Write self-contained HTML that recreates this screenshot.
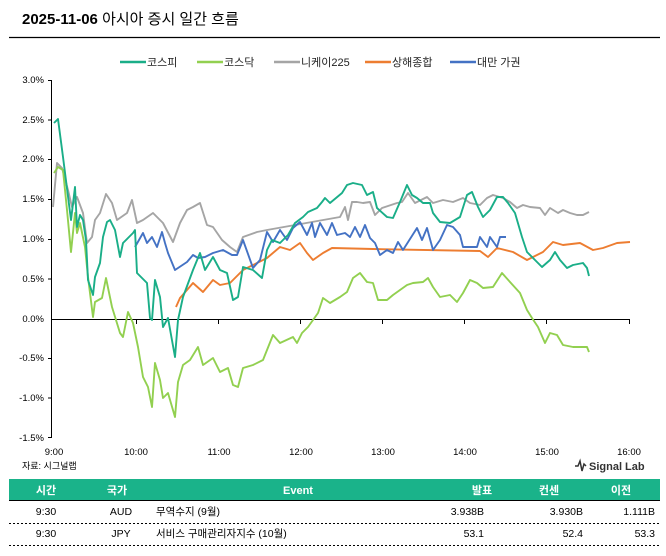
<!DOCTYPE html>
<html><head><meta charset="utf-8"><style>
body{margin:0;background:#fff;width:666px;height:556px;overflow:hidden;font-family:"Liberation Sans","Noto Sans CJK KR",sans-serif}
svg{display:block}
text{font-family:"Liberation Sans","Noto Sans CJK KR",sans-serif}
</style></head><body>
<svg width="666" height="556" viewBox="0 0 666 556" xmlns="http://www.w3.org/2000/svg">
<text x="22" y="24" font-size="15" fill="#000"><tspan font-weight="bold">2025-11-06</tspan> 아시아 증시 일간 흐름</text>
<line x1="9" y1="37.5" x2="660" y2="37.5" stroke="#000" stroke-width="1.2"/>
<g font-size="11" fill="#222">
<line x1="120" y1="62" x2="146" y2="62" stroke="#1aae88" stroke-width="2.5"/><text x="147" y="66">코스피</text>
<line x1="197" y1="62" x2="223" y2="62" stroke="#92d050" stroke-width="2.5"/><text x="224" y="66">코스닥</text>
<line x1="274" y1="62" x2="300" y2="62" stroke="#a5a5a5" stroke-width="2.5"/><text x="301" y="66">니케이225</text>
<line x1="365" y1="62" x2="391" y2="62" stroke="#ed7d31" stroke-width="2.5"/><text x="392" y="66">상해종합</text>
<line x1="450" y1="62" x2="476" y2="62" stroke="#4472c4" stroke-width="2.5"/><text x="477" y="66">대만 가권</text>
</g>
<g font-size="9.5" fill="#000" text-anchor="end">
<text x="44" y="83">3.0%</text><text x="44" y="123">2.5%</text><text x="44" y="162">2.0%</text><text x="44" y="202">1.5%</text><text x="44" y="242">1.0%</text><text x="44" y="282">0.5%</text><text x="44" y="322">0.0%</text><text x="44" y="361">-0.5%</text><text x="44" y="401">-1.0%</text><text x="44" y="441">-1.5%</text>
</g>
<g stroke="#000" stroke-width="1">
<line x1="51.5" y1="80" x2="51.5" y2="438"/>
<line x1="48" y1="80.5" x2="51.5" y2="80.5"/><line x1="48" y1="120" x2="51.5" y2="120"/><line x1="48" y1="159.5" x2="51.5" y2="159.5"/><line x1="48" y1="199.5" x2="51.5" y2="199.5"/><line x1="48" y1="239.5" x2="51.5" y2="239.5"/><line x1="48" y1="279" x2="51.5" y2="279"/><line x1="48" y1="358.5" x2="51.5" y2="358.5"/><line x1="48" y1="398" x2="51.5" y2="398"/><line x1="48" y1="437.5" x2="51.5" y2="437.5"/>
<line x1="51.5" y1="319.5" x2="630" y2="319.5"/>
<line x1="136.5" y1="319" x2="136.5" y2="324"/><line x1="218.5" y1="319" x2="218.5" y2="324"/><line x1="300.5" y1="319" x2="300.5" y2="324"/><line x1="382.5" y1="319" x2="382.5" y2="324"/><line x1="464.5" y1="319" x2="464.5" y2="324"/><line x1="546.5" y1="319" x2="546.5" y2="324"/><line x1="629.5" y1="319" x2="629.5" y2="324"/>
</g>
<g font-size="9.5" fill="#000" text-anchor="middle">
<text x="54" y="455">9:00</text><text x="136" y="455">10:00</text><text x="219" y="455">11:00</text><text x="301" y="455">12:00</text><text x="383" y="455">13:00</text><text x="465" y="455">14:00</text><text x="547" y="455">15:00</text><text x="629" y="455">16:00</text>
</g>
<g fill="none" stroke-width="1.9" stroke-linejoin="round">
<polyline stroke="#a5a5a5" points="53,207 57,163 62,168 68,190 72,207 77,197 83,213 87,243 92,237 95,220 100,213 106,194 112,203 117,220 127,213 132,200 137,223 143,220 153,213 163,223 173,242 180,223 187,210 193,207 200,203 207,225 213,227 222,240 230,247 237,252 243,237 257,232 267,230 340,217 345,207 348,220 352,202 357,202 363,203 370,202 375,215 382,208 397,203 402,202 408,193 415,203 427,197 433,203 443,200 453,202 463,198 470,203 480,205 487,198 493,195 503,198 510,202 517,208 523,205 530,207 540,208 545,215 550,208 558,213 563,210 570,213 577,215 583,215 589,212"/>
<polyline stroke="#ed7d31" points="176,307 180,298 187,290 193,283 203,292 213,280 220,285 230,283 243,270 257,263 267,258 280,247 290,250 300,243 307,253 313,260 323,253 332,248 373,249 480,251 488,257 497,248 513,252 527,260 543,252 553,242 563,245 580,243 593,250 603,248 617,243 630,242"/>
<polyline stroke="#4472c4" points="135,247 143,233 147,243 152,237 157,247 162,232 165,243 168,253 175,270 187,262 193,255 198,258 205,257 213,253 223,250 232,255 237,255 243,240 253,268 260,260 267,232 273,242 280,230 287,240 293,228 300,222 307,235 312,223 315,237 320,223 327,235 332,223 337,235 345,233 350,237 355,227 360,237 365,225 370,238 375,243 380,255 387,250 393,253 398,242 403,250 417,228 422,240 427,228 433,250 440,240 447,225 453,227 460,235 463,247 477,247 480,237 487,247 490,237 497,247 500,237 506,237"/>
<polyline stroke="#92d050" points="54,173 58,167 63,170 67,210 71,252 75,213 77,233 80,223 85,247 88,277 93,317 95,302 102,298 106,278 112,307 120,333 123,337 128,312 133,323 138,347 143,377 148,387 152,407 155,363 160,380 163,398 168,393 175,417 178,382 183,365 190,360 198,347 203,365 213,358 220,372 228,368 233,385 238,387 243,368 253,365 263,360 273,335 280,343 293,337 297,343 302,333 308,327 313,320 318,313 323,298 330,303 340,297 347,292 353,278 360,273 367,282 373,283 378,300 387,300 393,295 400,290 407,285 413,283 423,282 428,278 433,287 440,297 450,295 457,302 463,293 470,280 477,283 483,288 493,287 502,273 510,282 520,293 527,310 532,318 538,327 545,343 550,333 557,335 563,345 573,347 587,347 589,352"/>
<polyline stroke="#1aae88" points="54,123 58,119 63,157 71,220 75,187 77,227 80,215 83,220 86,240 88,280 93,295 95,277 100,263 103,237 107,222 110,220 115,230 120,257 123,243 128,238 133,233 135,230 137,273 147,283 150,318 152,320 155,280 160,297 163,327 168,318 175,357 178,320 183,297 193,270 200,253 205,270 213,257 220,270 227,273 233,300 238,297 243,267 253,270 262,278 267,250 272,240 280,243 288,235 295,223 303,217 308,212 317,208 322,202 325,198 330,203 342,193 347,185 353,183 362,185 367,195 373,192 377,208 387,217 393,218 400,202 407,185 412,195 417,198 423,203 430,203 433,213 440,222 450,223 460,217 467,195 472,192 478,207 483,217 490,210 497,197 503,197 508,203 515,213 522,237 527,252 537,262 542,267 550,260 555,252 560,260 567,268 573,265 583,263 587,268 589,276"/>
</g>
<text x="22" y="469" font-size="9" fill="#000">자료: 시그널랩</text>
<polyline points="575,466 578,466 580,461 582,471 584,464 586,466" fill="none" stroke="#333" stroke-width="1.5"/>
<text x="589" y="470" font-size="11" font-weight="bold" fill="#333">Signal Lab</text>
<rect x="9" y="479" width="651" height="21" fill="#1ab38a"/>
<line x1="9" y1="500.5" x2="660" y2="500.5" stroke="#000" stroke-width="1"/>
<g font-size="11" font-weight="bold" fill="#fff" text-anchor="middle">
<text x="46" y="494">시간</text><text x="117" y="494">국가</text><text x="298" y="494">Event</text><text x="482" y="494">발표</text><text x="549" y="494">컨센</text><text x="621" y="494">이전</text>
</g>
<g font-size="10.5" fill="#000">
<text x="46" y="515" text-anchor="middle">9:30</text><text x="121" y="515" text-anchor="middle">AUD</text><text x="156" y="515">무역수지 (9월)</text>
<text x="484" y="515" text-anchor="end">3.938B</text><text x="583" y="515" text-anchor="end">3.930B</text><text x="655" y="515" text-anchor="end">1.111B</text>
<text x="46" y="537" text-anchor="middle">9:30</text><text x="121" y="537" text-anchor="middle">JPY</text><text x="156" y="537">서비스 구매관리자지수 (10월)</text>
<text x="484" y="537" text-anchor="end">53.1</text><text x="583" y="537" text-anchor="end">52.4</text><text x="655" y="537" text-anchor="end">53.3</text>
</g>
<line x1="9" y1="523.5" x2="660" y2="523.5" stroke="#000" stroke-width="1" stroke-dasharray="2,2"/>
<line x1="9" y1="545.5" x2="660" y2="545.5" stroke="#000" stroke-width="1" stroke-dasharray="2,2"/>
</svg>
</body></html>
